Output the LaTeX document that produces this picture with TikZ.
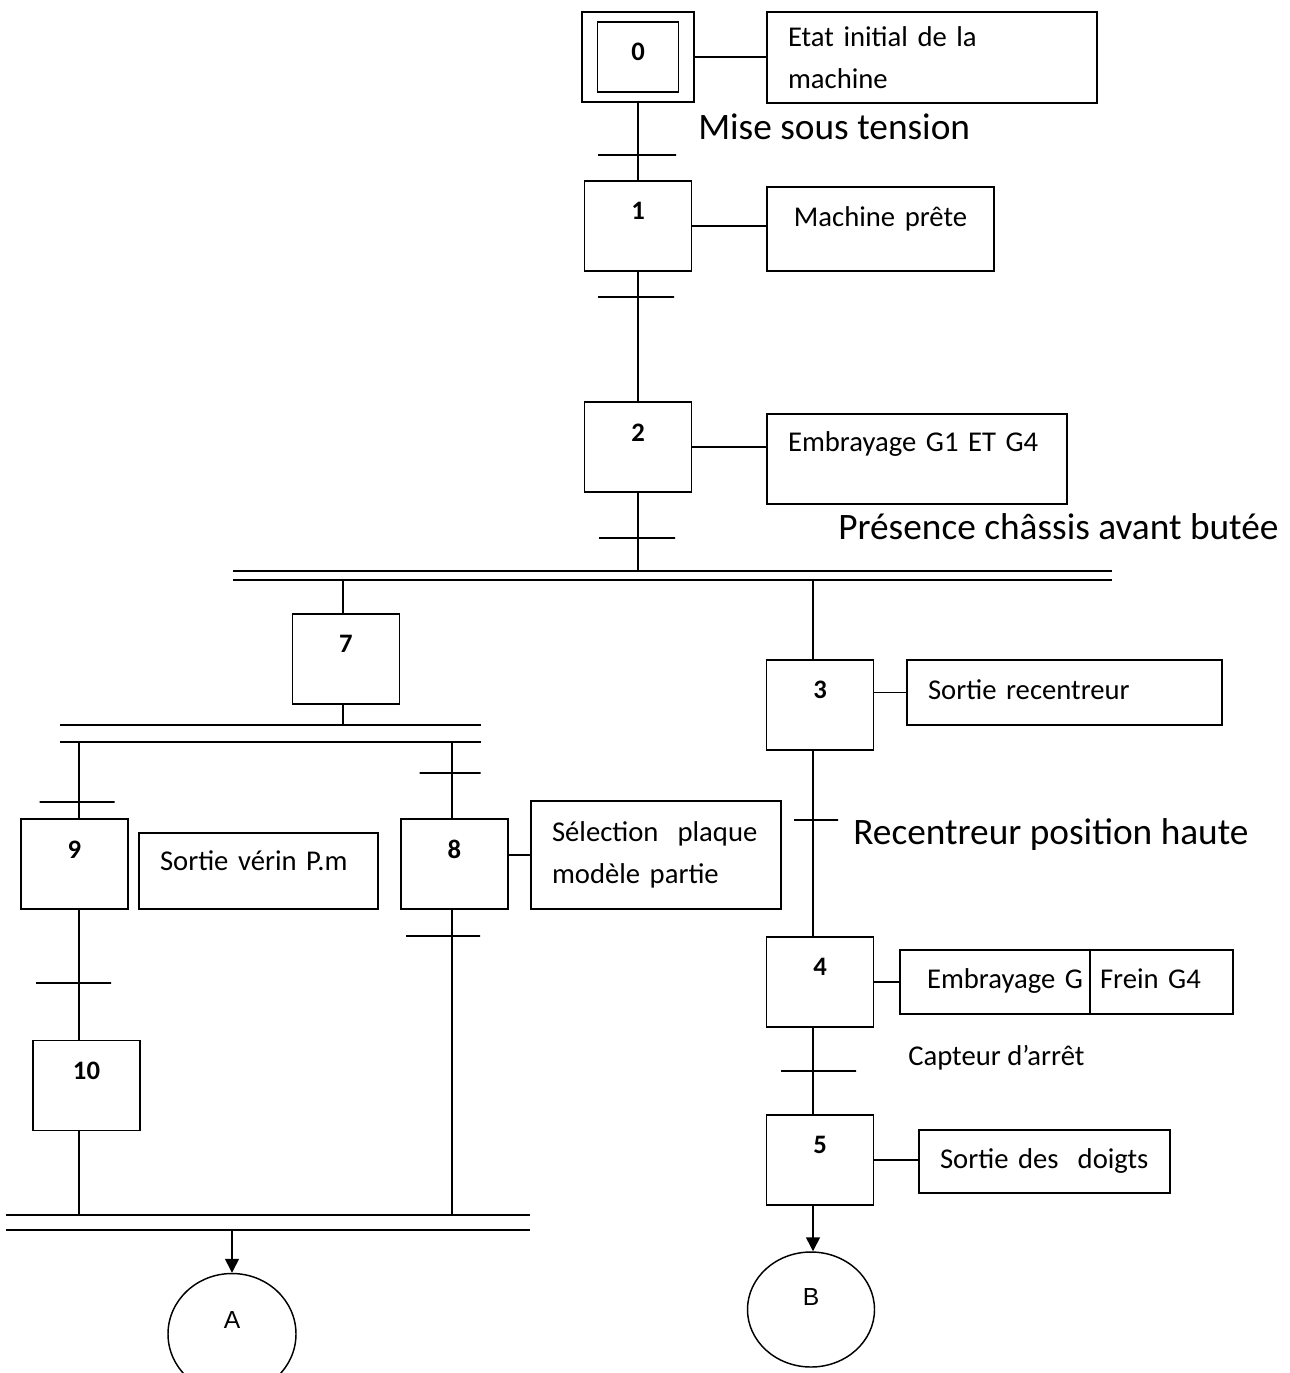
\documentclass[tikz,border=0pt]{standalone}
\usepackage{fontspec}
\setmainfont{Carlito}
\newfontfamily\lettrefont{Liberation Sans}
\usetikzlibrary{arrows.meta,positioning,shapes.geometric}
\tikzset{
  >={Triangle[length=10.5pt,width=10.5pt]},
  trait/.style={line width=1.1pt},
  num/.style={font=\fontsize{20}{24}\selectfont\bfseries,inner sep=0pt},
  lettre/.style={font=\lettrefont\fontsize{18.5}{22}\selectfont,inner sep=0pt},
  etape/.style={draw,trait,minimum width=80.25pt,minimum height=67.5pt,inner sep=0pt,
    label={[num,anchor=center,yshift=-23.25pt]north:#1}},
  action/.style={draw,trait,outer sep=0pt,inner xsep=15.75pt,inner ysep=0pt,
    align=left,font=\fontsize{21.5}{31}\selectfont},
  ligne/.style={text height=15pt,text depth=#1},
  ligne/.default=5pt,
  trans/.style={draw,trait,minimum width=#1,minimum height=0pt,inner sep=0pt,outer sep=0pt},
  trans/.default=57pt,
  recept/.style={anchor=base west,inner sep=0pt,font=\fontsize{28}{34}\selectfont},
  renvoi/.style={draw,trait,ellipse,inner sep=0pt},
}
\begin{document}
\begin{tikzpicture}[x=0.75pt,y=-0.75pt]
  \useasboundingbox (0,0) rectangle (1289,1373);
  % colonnes des liaisons
  \coordinate (cM) at (638,0);
  \coordinate (c7) at (343,0);
  \coordinate (cL) at (79,0);
  \coordinate (c8) at (452,0);
  \coordinate (cR) at (813,0);

  % etapes
  \node[draw,trait,minimum width=84pt,minimum height=67.5pt] (e0) at (638,57) {};
  \node[etape=0,minimum width=60.75pt,minimum height=52.5pt] (e0i) at (638,57) {};
  \node[etape=1] (e1) at (638,226) {};
  \node[etape=2] (e2) at (638,447) {};
  \node[etape=7] (e7) at (346,659) {};
  \node[etape=3] (e3) at (820,705) {};
  \node[etape=4] (e4) at (820,982) {};
  \node[etape=5] (e5) at (820,1160) {};
  \node[etape=9] (e9) at (74.5,864) {};
  \node[etape=8] (e8) at (454.5,864) {};
  \node[etape=10] (e10) at (86.5,1085.5) {};

  % actions
  \node[action,minimum width=247.5pt,minimum height=68.25pt,text width=216pt] (a0) at (932,57.5)
    {Etat initial de la\\machine};
  \node[action,ligne=18.5pt,minimum width=170.25pt,minimum height=63pt,inner xsep=10pt,text width=150pt,align=center] (a1) at (880.5,229)
    {Machine prête};
  \node[action,ligne=26pt,minimum width=225pt,minimum height=67.5pt,text width=193.5pt] (a2) at (917,459)
    {Embrayage G1 ET G4};
  \node[action,ligne,minimum width=236.25pt,minimum height=48.75pt,text width=204.75pt] (a3) at (1064.5,692.5)
    {Sortie recentreur};
  \node[action,ligne=15.5pt,minimum width=179.25pt,minimum height=57pt,text width=147.75pt] (a9) at (258.5,871)
    {Sortie vérin P.m};
  \node[action,minimum width=187.5pt,minimum height=81pt,text width=156pt] (a8) at (656,855)
    {Sélection~ plaque\\modèle partie};
  \node[action,ligne,minimum width=142.5pt,minimum height=48pt,inner xsep=5.25pt,text width=132pt,align=right] (a4) at (995,982)
    {Embrayage G};
  \node[action,ligne,minimum width=107.25pt,minimum height=48pt,inner xsep=7.5pt,text width=92.25pt,right=0pt of a4] (a4b)
    {Frein G4};
  \node[action,ligne,minimum width=188.25pt,minimum height=47.25pt,text width=156.75pt] (a5) at (1044.5,1161.5)
    {Sortie des~ doigts};

  % transitions
  \node[trans=58.5pt] (t0) at (637,155) {};
  \node[trans] (t1) at (636,297) {};
  \node[trans] (t2) at (637,538) {};
  \node[trans=33pt] (t3) at (816,820) {};
  \node[trans=56.25pt] (t4) at (818.5,1071) {};
  \node[trans=45.75pt] (t8a) at (450,773) {};
  \node[trans=55.5pt] (t8b) at (443,936) {};
  \node[trans=56.25pt] (t9) at (77,802) {};
  \node[trans=56.25pt] (t10) at (73.5,983) {};

  % receptivites
  \node[recept] (r0) at (698,140) {Mise sous tension};
  \node[recept] (r2) at (838,539) {Présence châssis avant butée};
  \node[recept] (r3) at (853,844) {Recentreur position haute};
  \node[recept,font=\fontsize{21.5}{26}\selectfont] (r4) at (908,1065) {Capteur d’arrêt};

  % doubles barres
  \coordinate (d1h) at (233,571);
  \coordinate (d1b) at (233,580);
  \coordinate (d2h) at (60,725);
  \coordinate (d2b) at (60,742);
  \coordinate (d3h) at (6,1215);
  \coordinate (d3b) at (6,1230);
  \draw[trait] (d1h) -- ++(879,0) (d1b) -- ++(879,0);
  \draw[trait] (d2h) -- ++(421,0) (d2b) -- ++(421,0);
  \draw[trait] (d3h) -- ++(524,0) (d3b) -- ++(524,0);

  % renvois
  \node[renvoi,minimum width=96pt,minimum height=90.75pt,
    label={[lettre,anchor=center,yshift=-35.6pt]north:A}] (rA) at (232,1334) {};
  \node[renvoi,minimum width=95.25pt,minimum height=86.25pt,
    label={[lettre,anchor=center,yshift=-34.5pt]north:B}] (rB) at (811,1309.5) {};

  % liaisons
  \draw[trait] (e0.south) -- (e1.north) (e1.south) -- (e2.north) (e2.south) -- (e2.south |- d1h);
  \draw[trait] (c7 |- d1b) -- (c7 |- e7.north) (c7 |- e7.south) -- (c7 |- d2h);
  \draw[trait] (cR |- d1b) -- (cR |- e3.north) (cR |- e3.south) -- (cR |- e4.north)
    (cR |- e4.south) -- (cR |- e5.north);
  \draw[trait] (cL |- d2b) -- (cL |- e9.north) (cL |- e9.south) -- (cL |- e10.north)
    (cL |- e10.south) -- (cL |- d3h);
  \draw[trait] (c8 |- d2b) -- (c8 |- e8.north) (c8 |- e8.south) -- (c8 |- d3h);
  \draw[trait,->] (rA.north |- d3b) -- (rA.north);
  \draw[trait,->] (cR |- e5.south) -- (cR |- rB.north);

  % etapes -> actions
  \draw[trait] (e0.east) -- (e0.east -| a0.west);
  \draw[trait] (e1.east) -- (e1.east -| a1.west);
  \draw[trait] (e2.east) -- (e2.east -| a2.west);
  \draw[trait] (a3.west -| e3.east) -- (a3.west);
  \draw[trait] (a8.west -| e8.east) -- (a8.west);
  \draw[trait] (e4.east) -- (e4.east -| a4.west);
  \draw[trait] (e5.east) -- (e5.east -| a5.west);
\end{tikzpicture}
\end{document}
